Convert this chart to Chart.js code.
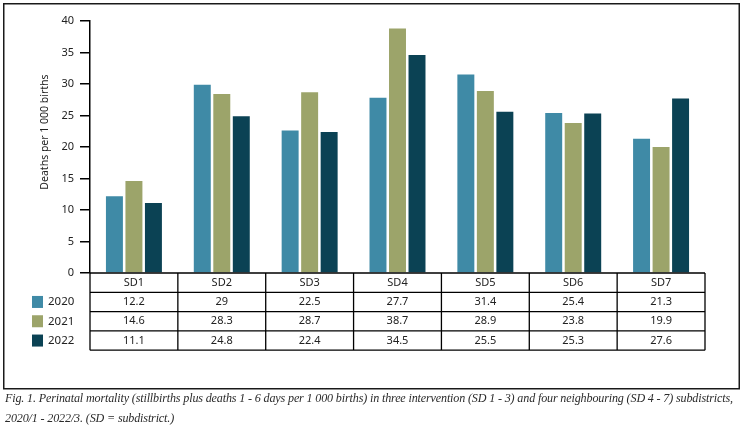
<!DOCTYPE html>
<html>
<head>
<meta charset="utf-8">
<script src="https://cdn.jsdelivr.net/npm/chart.js@4/dist/chart.umd.min.js"></script>
<style>
  html, body { margin: 0; padding: 0; background: #fff; }
  #wrap { position: relative; width: 747px; height: 436px; }
  #c { position: absolute; left: 0; top: 0; }
  #caption {
    position: absolute; left: 5px; top: 388px; width: 742px;
    font-family: "Liberation Serif", "DejaVu Serif", serif; font-style: italic;
    font-size: 12.1px; line-height: 20px; color: #2a2a2a; white-space: nowrap;
    letter-spacing: -0.15px;
  }
</style>
</head>
<body>
<div id="wrap">
  <canvas id="c" width="747" height="390"></canvas>
  <div id="caption">Fig. 1. Perinatal mortality (stillbirths plus deaths 1 - 6 days per 1 000 births) in three intervention (SD 1 - 3) and four neighbouring (SD 4 - 7) subdistricts,<br>2020/1 - 2022/3. (SD = subdistrict.)</div>
</div>
<script>
const categories = ['SD1', 'SD2', 'SD3', 'SD4', 'SD5', 'SD6', 'SD7'];
const seriesNames = ['2020', '2021', '2022'];
// bar heights as drawn in the picture
const values2020 = [12.2, 29.9, 22.6, 27.8, 31.5, 25.4, 21.3];
const values2021 = [14.6, 28.4, 28.7, 38.8, 28.9, 23.8, 20.0];
const values2022 = [11.1, 24.9, 22.4, 34.6, 25.6, 25.3, 27.7];
// values as printed in the data table
const tableLabels2020 = ['12.2', '29', '22.5', '27.7', '31.4', '25.4', '21.3'];
const tableLabels2021 = ['14.6', '28.3', '28.7', '38.7', '28.9', '23.8', '19.9'];
const tableLabels2022 = ['11.1', '24.8', '22.4', '34.5', '25.5', '25.3', '27.6'];
const yTitle = 'Deaths per 1 000 births';
const colors = ['#3f8aa6', '#9ca46a', '#0b4254'];

const FONT = '"Noto Sans", "Open Sans", sans-serif';

const tablePlugin = {
  id: 'tablePlugin',
  afterDraw(chart) {
    const ctx = chart.ctx;
    const xs = chart.scales.x;
    const area = chart.chartArea;
    const n = categories.length;
    const w = (xs.right - xs.left) / n;
    const top = area.bottom;
    const rowH = 19.3;
    const rows = 4;
    ctx.save();
    // outer frame
    ctx.strokeStyle = '#1a1a1a';
    ctx.lineWidth = 1.5;
    ctx.strokeRect(3.75, 3.75, 735.5, 385);
    // table lines
    ctx.strokeStyle = '#000';
    ctx.lineWidth = 1.3;
    ctx.beginPath();
    for (let r = 0; r <= rows; r++) {
      const y = top + r * rowH;
      ctx.moveTo(xs.left, y);
      ctx.lineTo(xs.right, y);
    }
    for (let i = 0; i <= n; i++) {
      const x = xs.left + i * w;
      ctx.moveTo(x, top);
      ctx.lineTo(x, top + rows * rowH);
    }
    ctx.stroke();
    // values
    const tables = [tableLabels2020, tableLabels2021, tableLabels2022];
    ctx.font = '11px ' + FONT;
    ctx.fillStyle = '#222';
    ctx.textAlign = 'center';
    ctx.textBaseline = 'middle';
    for (let r = 0; r < 3; r++) {
      const y = top + (r + 1.5) * rowH;
      for (let i = 0; i < n; i++) {
        ctx.fillText(tables[r][i], xs.getPixelForValue(i), y);
      }
      // legend
      ctx.fillStyle = colors[r];
      ctx.fillRect(32, y - 6, 11, 12);
      ctx.fillStyle = '#222';
      ctx.textAlign = 'left';
      ctx.font = '11.5px ' + FONT;
      ctx.fillText(seriesNames[r], 48, y);
      ctx.font = '11px ' + FONT;
      ctx.textAlign = 'center';
    }
    // y title
    ctx.translate(45, 132);
    ctx.rotate(-Math.PI / 2);
    ctx.font = '10.5px ' + FONT;
    ctx.fillText(yTitle, 0, 0);
    ctx.restore();
  }
};

new Chart(document.getElementById('c'), {
  type: 'bar',
  data: {
    labels: categories,
    datasets: [
      { label: seriesNames[0], data: values2020, backgroundColor: colors[0] },
      { label: seriesNames[1], data: values2021, backgroundColor: colors[1] },
      { label: seriesNames[2], data: values2022, backgroundColor: colors[2] }
    ]
  },
  options: {
    responsive: false,
    animation: false,
    devicePixelRatio: 1,
    categoryPercentage: 0.666,
    barPercentage: 0.87,
    layout: { padding: { top: 21, right: 42, left: 0, bottom: 0 } },
    plugins: { legend: { display: false }, tooltip: { enabled: false } },
    scales: {
      x: {
        grid: { display: false, drawTicks: false },
        border: { display: false },
        ticks: { color: '#222', font: { size: 11, family: FONT }, padding: 3 },
        afterFit(s) { s.height = 117; }
      },
      y: {
        min: 0, max: 40,
        ticks: { stepSize: 5, color: '#222', font: { size: 11, family: FONT }, padding: 6 },
        grid: { drawOnChartArea: false, color: '#000', tickLength: 10, lineWidth: 1.5 },
        border: { color: '#000', width: 1.5 },
        afterFit(s) { s.width = 90; }
      }
    }
  },
  plugins: [tablePlugin]
});
</script>
</body>
</html>
